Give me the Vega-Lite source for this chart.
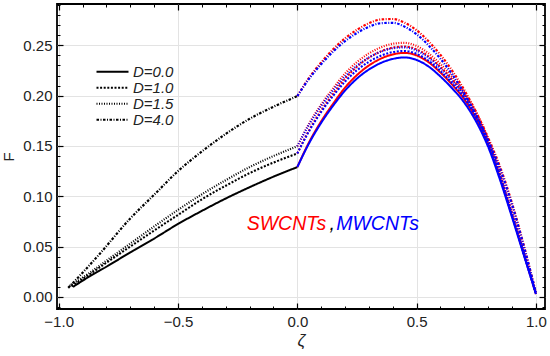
{
"$schema": "https://vega.github.io/schema/vega-lite/v6.json",
"autosize": "none",
"width": 488, "height": 305,
"padding": {"left": 57, "top": 4, "right": 5, "bottom": 47},
"background": "white",
"config": {"view": {"stroke": "black", "strokeWidth": 1.8}, "font": "Liberation Sans", "axis": {"labelFont": "Liberation Sans", "titleFont": "Liberation Sans"}, "legend": {"labelFont": "Liberation Sans"}},
"datasets": {
"notes": [
{"z": -0.212, "F": 0.0669, "t": "SWCNTs", "nt": "SWCNTs"},
{"z": 0.135, "F": 0.0669, "t": ",", "nt": "base"},
{"z": 0.163, "F": 0.0669, "t": "MWCNTs", "nt": "MWCNTs"}
],
"curves": [
{"nt":"base","D":"D=0.0","z":-0.94,"F":0.010},{"nt":"base","D":"D=0.0","z":-0.87,"F":0.0205},{"nt":"base","D":"D=0.0","z":-0.8,"F":0.030},{"nt":"base","D":"D=0.0","z":-0.7,"F":0.0443},{"nt":"base","D":"D=0.0","z":-0.6,"F":0.058},{"nt":"base","D":"D=0.0","z":-0.5,"F":0.0725},{"nt":"base","D":"D=0.0","z":-0.4,"F":0.0855},{"nt":"base","D":"D=0.0","z":-0.3,"F":0.0978},{"nt":"base","D":"D=0.0","z":-0.2,"F":0.109},{"nt":"base","D":"D=0.0","z":-0.1,"F":0.1195},{"nt":"base","D":"D=0.0","z":0,"F":0.129},
{"nt":"base","D":"D=1.0","z":-0.946,"F":0.0105},{"nt":"base","D":"D=1.0","z":-0.87,"F":0.0225},{"nt":"base","D":"D=1.0","z":-0.8,"F":0.034},{"nt":"base","D":"D=1.0","z":-0.7,"F":0.050},{"nt":"base","D":"D=1.0","z":-0.6,"F":0.066},{"nt":"base","D":"D=1.0","z":-0.5,"F":0.0815},{"nt":"base","D":"D=1.0","z":-0.4,"F":0.097},{"nt":"base","D":"D=1.0","z":-0.3,"F":0.1105},{"nt":"base","D":"D=1.0","z":-0.2,"F":0.123},{"nt":"base","D":"D=1.0","z":-0.1,"F":0.1335},{"nt":"base","D":"D=1.0","z":0,"F":0.1425},
{"nt":"base","D":"D=1.5","z":-0.954,"F":0.011},{"nt":"base","D":"D=1.5","z":-0.87,"F":0.024},{"nt":"base","D":"D=1.5","z":-0.8,"F":0.036},{"nt":"base","D":"D=1.5","z":-0.7,"F":0.053},{"nt":"base","D":"D=1.5","z":-0.6,"F":0.070},{"nt":"base","D":"D=1.5","z":-0.5,"F":0.0865},{"nt":"base","D":"D=1.5","z":-0.4,"F":0.102},{"nt":"base","D":"D=1.5","z":-0.3,"F":0.116},{"nt":"base","D":"D=1.5","z":-0.2,"F":0.129},{"nt":"base","D":"D=1.5","z":-0.1,"F":0.140},{"nt":"base","D":"D=1.5","z":0,"F":0.1497},
{"nt":"base","D":"D=4.0","z":-0.96,"F":0.009},{"nt":"base","D":"D=4.0","z":-0.9,"F":0.024},{"nt":"base","D":"D=4.0","z":-0.831,"F":0.042},{"nt":"base","D":"D=4.0","z":-0.7,"F":0.078},{"nt":"base","D":"D=4.0","z":-0.6,"F":0.1015},{"nt":"base","D":"D=4.0","z":-0.5,"F":0.125},{"nt":"base","D":"D=4.0","z":-0.4,"F":0.1445},{"nt":"base","D":"D=4.0","z":-0.3,"F":0.162},{"nt":"base","D":"D=4.0","z":-0.2,"F":0.177},{"nt":"base","D":"D=4.0","z":-0.1,"F":0.189},{"nt":"base","D":"D=4.0","z":0,"F":0.1995},
{"nt":"SWCNTs","D":"D=0.0","z":0,"F":0.129},{"nt":"SWCNTs","D":"D=0.0","z":0.05,"F":0.154},{"nt":"SWCNTs","D":"D=0.0","z":0.1,"F":0.1745},{"nt":"SWCNTs","D":"D=0.0","z":0.15,"F":0.192},{"nt":"SWCNTs","D":"D=0.0","z":0.2,"F":0.208},{"nt":"SWCNTs","D":"D=0.0","z":0.25,"F":0.2205},{"nt":"SWCNTs","D":"D=0.0","z":0.3,"F":0.230},{"nt":"SWCNTs","D":"D=0.0","z":0.35,"F":0.2368},{"nt":"SWCNTs","D":"D=0.0","z":0.4,"F":0.241},{"nt":"SWCNTs","D":"D=0.0","z":0.45,"F":0.2425},{"nt":"SWCNTs","D":"D=0.0","z":0.5,"F":0.240},{"nt":"SWCNTs","D":"D=0.0","z":0.55,"F":0.2333},{"nt":"SWCNTs","D":"D=0.0","z":0.6,"F":0.223},{"nt":"SWCNTs","D":"D=0.0","z":0.65,"F":0.2107},{"nt":"SWCNTs","D":"D=0.0","z":0.7,"F":0.1963},{"nt":"SWCNTs","D":"D=0.0","z":0.75,"F":0.177},{"nt":"SWCNTs","D":"D=0.0","z":0.8,"F":0.1515},{"nt":"SWCNTs","D":"D=0.0","z":0.85,"F":0.118},{"nt":"SWCNTs","D":"D=0.0","z":0.9,"F":0.0805},{"nt":"SWCNTs","D":"D=0.0","z":0.95,"F":0.042},{"nt":"SWCNTs","D":"D=0.0","z":1.0,"F":0.003},
{"nt":"SWCNTs","D":"D=1.0","z":0,"F":0.1425},{"nt":"SWCNTs","D":"D=1.0","z":0.05,"F":0.166},{"nt":"SWCNTs","D":"D=1.0","z":0.1,"F":0.1853},{"nt":"SWCNTs","D":"D=1.0","z":0.15,"F":0.2018},{"nt":"SWCNTs","D":"D=1.0","z":0.2,"F":0.217},{"nt":"SWCNTs","D":"D=1.0","z":0.25,"F":0.2288},{"nt":"SWCNTs","D":"D=1.0","z":0.3,"F":0.2377},{"nt":"SWCNTs","D":"D=1.0","z":0.35,"F":0.244},{"nt":"SWCNTs","D":"D=1.0","z":0.4,"F":0.2478},{"nt":"SWCNTs","D":"D=1.0","z":0.45,"F":0.2489},{"nt":"SWCNTs","D":"D=1.0","z":0.5,"F":0.246},{"nt":"SWCNTs","D":"D=1.0","z":0.55,"F":0.239},{"nt":"SWCNTs","D":"D=1.0","z":0.6,"F":0.2284},{"nt":"SWCNTs","D":"D=1.0","z":0.65,"F":0.2157},{"nt":"SWCNTs","D":"D=1.0","z":0.7,"F":0.2009},{"nt":"SWCNTs","D":"D=1.0","z":0.75,"F":0.1812},{"nt":"SWCNTs","D":"D=1.0","z":0.8,"F":0.1552},{"nt":"SWCNTs","D":"D=1.0","z":0.85,"F":0.121},{"nt":"SWCNTs","D":"D=1.0","z":0.9,"F":0.0827},{"nt":"SWCNTs","D":"D=1.0","z":0.95,"F":0.0432},{"nt":"SWCNTs","D":"D=1.0","z":1.0,"F":0.003},
{"nt":"SWCNTs","D":"D=1.5","z":0,"F":0.1497},{"nt":"SWCNTs","D":"D=1.5","z":0.05,"F":0.1725},{"nt":"SWCNTs","D":"D=1.5","z":0.1,"F":0.1912},{"nt":"SWCNTs","D":"D=1.5","z":0.15,"F":0.2072},{"nt":"SWCNTs","D":"D=1.5","z":0.2,"F":0.222},{"nt":"SWCNTs","D":"D=1.5","z":0.25,"F":0.2334},{"nt":"SWCNTs","D":"D=1.5","z":0.3,"F":0.242},{"nt":"SWCNTs","D":"D=1.5","z":0.35,"F":0.248},{"nt":"SWCNTs","D":"D=1.5","z":0.4,"F":0.2516},{"nt":"SWCNTs","D":"D=1.5","z":0.45,"F":0.2525},{"nt":"SWCNTs","D":"D=1.5","z":0.5,"F":0.2494},{"nt":"SWCNTs","D":"D=1.5","z":0.55,"F":0.2421},{"nt":"SWCNTs","D":"D=1.5","z":0.6,"F":0.2313},{"nt":"SWCNTs","D":"D=1.5","z":0.65,"F":0.2184},{"nt":"SWCNTs","D":"D=1.5","z":0.7,"F":0.2033},{"nt":"SWCNTs","D":"D=1.5","z":0.75,"F":0.1833},{"nt":"SWCNTs","D":"D=1.5","z":0.8,"F":0.157},{"nt":"SWCNTs","D":"D=1.5","z":0.85,"F":0.1225},{"nt":"SWCNTs","D":"D=1.5","z":0.9,"F":0.0838},{"nt":"SWCNTs","D":"D=1.5","z":0.95,"F":0.0438},{"nt":"SWCNTs","D":"D=1.5","z":1.0,"F":0.003},
{"nt":"SWCNTs","D":"D=4.0","z":0,"F":0.1995},{"nt":"SWCNTs","D":"D=4.0","z":0.05,"F":0.218},{"nt":"SWCNTs","D":"D=4.0","z":0.1,"F":0.233},{"nt":"SWCNTs","D":"D=4.0","z":0.15,"F":0.246},{"nt":"SWCNTs","D":"D=4.0","z":0.2,"F":0.257},{"nt":"SWCNTs","D":"D=4.0","z":0.25,"F":0.2655},{"nt":"SWCNTs","D":"D=4.0","z":0.3,"F":0.272},{"nt":"SWCNTs","D":"D=4.0","z":0.35,"F":0.2757},{"nt":"SWCNTs","D":"D=4.0","z":0.4,"F":0.2762},{"nt":"SWCNTs","D":"D=4.0","z":0.45,"F":0.2725},{"nt":"SWCNTs","D":"D=4.0","z":0.5,"F":0.265},{"nt":"SWCNTs","D":"D=4.0","z":0.55,"F":0.254},{"nt":"SWCNTs","D":"D=4.0","z":0.6,"F":0.2405},{"nt":"SWCNTs","D":"D=4.0","z":0.65,"F":0.2245},{"nt":"SWCNTs","D":"D=4.0","z":0.7,"F":0.2055},{"nt":"SWCNTs","D":"D=4.0","z":0.75,"F":0.1835},{"nt":"SWCNTs","D":"D=4.0","z":0.8,"F":0.158},{"nt":"SWCNTs","D":"D=4.0","z":0.85,"F":0.129},{"nt":"SWCNTs","D":"D=4.0","z":0.9,"F":0.093},{"nt":"SWCNTs","D":"D=4.0","z":0.95,"F":0.0505},{"nt":"SWCNTs","D":"D=4.0","z":1.0,"F":0.004},
{"nt":"MWCNTs","D":"D=0.0","z":0,"F":0.129},{"nt":"MWCNTs","D":"D=0.0","z":0.05,"F":0.153},{"nt":"MWCNTs","D":"D=0.0","z":0.1,"F":0.173},{"nt":"MWCNTs","D":"D=0.0","z":0.15,"F":0.190},{"nt":"MWCNTs","D":"D=0.0","z":0.2,"F":0.205},{"nt":"MWCNTs","D":"D=0.0","z":0.25,"F":0.217},{"nt":"MWCNTs","D":"D=0.0","z":0.3,"F":0.226},{"nt":"MWCNTs","D":"D=0.0","z":0.35,"F":0.2325},{"nt":"MWCNTs","D":"D=0.0","z":0.4,"F":0.2365},{"nt":"MWCNTs","D":"D=0.0","z":0.45,"F":0.238},{"nt":"MWCNTs","D":"D=0.0","z":0.5,"F":0.2355},{"nt":"MWCNTs","D":"D=0.0","z":0.55,"F":0.229},{"nt":"MWCNTs","D":"D=0.0","z":0.6,"F":0.219},{"nt":"MWCNTs","D":"D=0.0","z":0.65,"F":0.207},{"nt":"MWCNTs","D":"D=0.0","z":0.7,"F":0.193},{"nt":"MWCNTs","D":"D=0.0","z":0.75,"F":0.174},{"nt":"MWCNTs","D":"D=0.0","z":0.8,"F":0.149},{"nt":"MWCNTs","D":"D=0.0","z":0.85,"F":0.116},{"nt":"MWCNTs","D":"D=0.0","z":0.9,"F":0.079},{"nt":"MWCNTs","D":"D=0.0","z":0.95,"F":0.041},{"nt":"MWCNTs","D":"D=0.0","z":1.0,"F":0.003},
{"nt":"MWCNTs","D":"D=1.0","z":0,"F":0.1425},{"nt":"MWCNTs","D":"D=1.0","z":0.05,"F":0.165},{"nt":"MWCNTs","D":"D=1.0","z":0.1,"F":0.1838},{"nt":"MWCNTs","D":"D=1.0","z":0.15,"F":0.1998},{"nt":"MWCNTs","D":"D=1.0","z":0.2,"F":0.214},{"nt":"MWCNTs","D":"D=1.0","z":0.25,"F":0.2253},{"nt":"MWCNTs","D":"D=1.0","z":0.3,"F":0.2337},{"nt":"MWCNTs","D":"D=1.0","z":0.35,"F":0.2397},{"nt":"MWCNTs","D":"D=1.0","z":0.4,"F":0.2433},{"nt":"MWCNTs","D":"D=1.0","z":0.45,"F":0.2444},{"nt":"MWCNTs","D":"D=1.0","z":0.5,"F":0.2415},{"nt":"MWCNTs","D":"D=1.0","z":0.55,"F":0.2347},{"nt":"MWCNTs","D":"D=1.0","z":0.6,"F":0.2244},{"nt":"MWCNTs","D":"D=1.0","z":0.65,"F":0.212},{"nt":"MWCNTs","D":"D=1.0","z":0.7,"F":0.1976},{"nt":"MWCNTs","D":"D=1.0","z":0.75,"F":0.1782},{"nt":"MWCNTs","D":"D=1.0","z":0.8,"F":0.1527},{"nt":"MWCNTs","D":"D=1.0","z":0.85,"F":0.119},{"nt":"MWCNTs","D":"D=1.0","z":0.9,"F":0.0812},{"nt":"MWCNTs","D":"D=1.0","z":0.95,"F":0.0422},{"nt":"MWCNTs","D":"D=1.0","z":1.0,"F":0.003},
{"nt":"MWCNTs","D":"D=1.5","z":0,"F":0.1497},{"nt":"MWCNTs","D":"D=1.5","z":0.05,"F":0.1715},{"nt":"MWCNTs","D":"D=1.5","z":0.1,"F":0.1897},{"nt":"MWCNTs","D":"D=1.5","z":0.15,"F":0.2052},{"nt":"MWCNTs","D":"D=1.5","z":0.2,"F":0.219},{"nt":"MWCNTs","D":"D=1.5","z":0.25,"F":0.2299},{"nt":"MWCNTs","D":"D=1.5","z":0.3,"F":0.238},{"nt":"MWCNTs","D":"D=1.5","z":0.35,"F":0.2437},{"nt":"MWCNTs","D":"D=1.5","z":0.4,"F":0.2471},{"nt":"MWCNTs","D":"D=1.5","z":0.45,"F":0.248},{"nt":"MWCNTs","D":"D=1.5","z":0.5,"F":0.2449},{"nt":"MWCNTs","D":"D=1.5","z":0.55,"F":0.2378},{"nt":"MWCNTs","D":"D=1.5","z":0.6,"F":0.2273},{"nt":"MWCNTs","D":"D=1.5","z":0.65,"F":0.2147},{"nt":"MWCNTs","D":"D=1.5","z":0.7,"F":0.2},{"nt":"MWCNTs","D":"D=1.5","z":0.75,"F":0.1803},{"nt":"MWCNTs","D":"D=1.5","z":0.8,"F":0.1545},{"nt":"MWCNTs","D":"D=1.5","z":0.85,"F":0.1205},{"nt":"MWCNTs","D":"D=1.5","z":0.9,"F":0.0823},{"nt":"MWCNTs","D":"D=1.5","z":0.95,"F":0.0428},{"nt":"MWCNTs","D":"D=1.5","z":1.0,"F":0.003},
{"nt":"MWCNTs","D":"D=4.0","z":0,"F":0.1995},{"nt":"MWCNTs","D":"D=4.0","z":0.05,"F":0.217},{"nt":"MWCNTs","D":"D=4.0","z":0.1,"F":0.2313},{"nt":"MWCNTs","D":"D=4.0","z":0.15,"F":0.2437},{"nt":"MWCNTs","D":"D=4.0","z":0.2,"F":0.2542},{"nt":"MWCNTs","D":"D=4.0","z":0.25,"F":0.2623},{"nt":"MWCNTs","D":"D=4.0","z":0.3,"F":0.2685},{"nt":"MWCNTs","D":"D=4.0","z":0.35,"F":0.272},{"nt":"MWCNTs","D":"D=4.0","z":0.4,"F":0.2724},{"nt":"MWCNTs","D":"D=4.0","z":0.45,"F":0.2686},{"nt":"MWCNTs","D":"D=4.0","z":0.5,"F":0.261},{"nt":"MWCNTs","D":"D=4.0","z":0.55,"F":0.25},{"nt":"MWCNTs","D":"D=4.0","z":0.6,"F":0.2366},{"nt":"MWCNTs","D":"D=4.0","z":0.65,"F":0.2208},{"nt":"MWCNTs","D":"D=4.0","z":0.7,"F":0.2021},{"nt":"MWCNTs","D":"D=4.0","z":0.75,"F":0.1805},{"nt":"MWCNTs","D":"D=4.0","z":0.8,"F":0.1554},{"nt":"MWCNTs","D":"D=4.0","z":0.85,"F":0.127},{"nt":"MWCNTs","D":"D=4.0","z":0.9,"F":0.0915},{"nt":"MWCNTs","D":"D=4.0","z":0.95,"F":0.0496},{"nt":"MWCNTs","D":"D=4.0","z":1.0,"F":0.004}
]
},
"resolve": {"axis": {"x": "independent", "y": "independent"}},
"layer": [
{
"data": {"name": "curves"},
"mark": {"type": "line", "interpolate": "monotone", "strokeCap": "butt"},
"encoding": {
"x": {"field": "z", "type": "quantitative", "scale": {"domain": [-1.007, 1.038], "nice": false, "zero": false},
 "axis": {"orient": "bottom", "values": [-1, -0.5, 0, 0.5, 1], "format": ".1f", "ticks": false, "domain": false, "grid": true, "gridColor": "#e3e3e3", "gridWidth": 1, "labelFontSize": 15, "labelColor": "#222", "labelPadding": 5, "labelFlush": false, "labelOverlap": false, "title": "ζ", "titleFontStyle": "italic", "titleFontWeight": "normal", "titleFontSize": 17, "titleColor": "#222", "titlePadding": 3}},
"y": {"field": "F", "type": "quantitative", "scale": {"domain": [-0.012, 0.2911], "nice": false, "zero": false},
 "axis": {"orient": "left", "values": [0, 0.05, 0.1, 0.15, 0.2, 0.25], "format": ".2f", "ticks": false, "domain": false, "grid": true, "gridColor": "#e3e3e3", "gridWidth": 1, "labelFontSize": 15, "labelColor": "#222", "labelPadding": 5, "labelFlush": false, "labelOverlap": false, "title": "F", "titleFontWeight": "normal", "titleFontSize": 15, "titleColor": "#222", "titlePadding": 6}},
"color": {"field": "nt", "type": "nominal", "scale": {"domain": ["base", "SWCNTs", "MWCNTs"], "range": ["black", "#ff0000", "#0000ff"]}, "legend": null},
"strokeDash": {"field": "D", "type": "nominal", "scale": {"domain": ["D=0.0", "D=1.0", "D=1.5", "D=4.0"], "range": [[1, 0], [2, 1.6], [1, 1.5], [2.5, 1.5, 1, 1.5]]},
 "legend": {"orient": "none", "legendX": 38, "legendY": 60, "title": null, "symbolType": "stroke", "symbolSize": 1024, "symbolStrokeWidth": 1.6, "symbolStrokeColor": "black", "clipHeight": 15.5, "rowPadding": 0, "labelOffset": 3, "labelFontSize": 15, "labelFontStyle": "italic", "labelColor": "#222", "padding": 0}},
"strokeWidth": {"field": "D", "type": "ordinal", "scale": {"domain": ["D=0.0", "D=1.0", "D=1.5", "D=4.0"], "range": [2, 2.2, 1, 1.6]}, "legend": null}
}
},
{
"data": {"name": "notes"},
"mark": {"type": "text", "align": "left", "baseline": "alphabetic", "fontSize": 19.5, "fontStyle": "italic", "font": "Liberation Sans"},
"encoding": {
"x": {"field": "z", "type": "quantitative", "axis": {"orient": "bottom", "values": [-1, -0.5, 0, 0.5, 1], "tickSize": -6, "tickColor": "black", "tickWidth": 1.2, "labels": false, "domain": false, "grid": false, "title": null}},
"y": {"field": "F", "type": "quantitative", "axis": {"orient": "left", "values": [0, 0.05, 0.1, 0.15, 0.2, 0.25], "tickSize": -6, "tickColor": "black", "tickWidth": 1.2, "labels": false, "domain": false, "grid": false, "title": null}},
"text": {"field": "t"},
"color": {"field": "nt", "type": "nominal", "legend": null}
}
},
{
"data": {"name": "notes"},
"mark": {"type": "point", "opacity": 0},
"encoding": {
"x": {"field": "z", "type": "quantitative", "axis": {"orient": "bottom", "values": [-1, -0.9, -0.8, -0.7, -0.6, -0.4, -0.3, -0.2, -0.1, 0.1, 0.2, 0.3, 0.4, 0.6, 0.7, 0.8, 0.9], "tickSize": -3, "tickColor": "black", "tickWidth": 1, "labels": false, "domain": false, "grid": false, "title": null}},
"y": {"field": "F", "type": "quantitative", "axis": {"orient": "left", "values": [-0.01, 0.01, 0.02, 0.03, 0.04, 0.06, 0.07, 0.08, 0.09, 0.11, 0.12, 0.13, 0.14, 0.16, 0.17, 0.18, 0.19, 0.21, 0.22, 0.23, 0.24, 0.26, 0.27, 0.28, 0.29], "tickSize": -3, "tickColor": "black", "tickWidth": 1, "labels": false, "domain": false, "grid": false, "title": null}}
}
},
{
"data": {"name": "notes"},
"mark": {"type": "point", "opacity": 0},
"encoding": {
"x": {"field": "z", "type": "quantitative", "axis": {"orient": "top", "values": [-1, -0.5, 0, 0.5, 1], "tickSize": -6, "tickColor": "black", "tickWidth": 1.2, "labels": false, "domain": false, "grid": false, "title": null}},
"y": {"field": "F", "type": "quantitative", "axis": {"orient": "right", "values": [0, 0.05, 0.1, 0.15, 0.2, 0.25], "tickSize": -6, "tickColor": "black", "tickWidth": 1.2, "labels": false, "domain": false, "grid": false, "title": null}}
}
},
{
"data": {"name": "notes"},
"mark": {"type": "point", "opacity": 0},
"encoding": {
"x": {"field": "z", "type": "quantitative", "axis": {"orient": "top", "values": [-1, -0.9, -0.8, -0.7, -0.6, -0.4, -0.3, -0.2, -0.1, 0.1, 0.2, 0.3, 0.4, 0.6, 0.7, 0.8, 0.9], "tickSize": -3, "tickColor": "black", "tickWidth": 1, "labels": false, "domain": false, "grid": false, "title": null}},
"y": {"field": "F", "type": "quantitative", "axis": {"orient": "right", "values": [-0.01, 0.01, 0.02, 0.03, 0.04, 0.06, 0.07, 0.08, 0.09, 0.11, 0.12, 0.13, 0.14, 0.16, 0.17, 0.18, 0.19, 0.21, 0.22, 0.23, 0.24, 0.26, 0.27, 0.28, 0.29], "tickSize": -3, "tickColor": "black", "tickWidth": 1, "labels": false, "domain": false, "grid": false, "title": null}}
}
}
]
}
